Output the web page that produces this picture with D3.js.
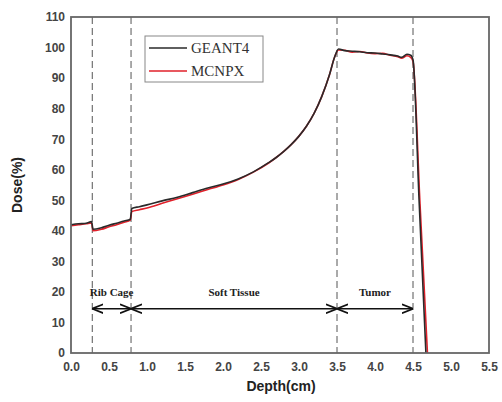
<!DOCTYPE html>
<html>
<head>
<meta charset="utf-8">
<script src="https://cdn.jsdelivr.net/npm/d3@7"></script>
<style>
body { margin: 0; background: #fff; }
svg { display: block; }
</style>
</head>
<body>
<svg id="chart" width="502" height="402"></svg>
<script>
// depth (cm) and dose (%)
const geantDepth = [0, 0.1, 0.2, 0.27, 0.29, 0.4, 0.5, 0.6, 0.7, 0.78, 0.8, 0.9, 1.0, 1.2, 1.4, 1.6, 1.8, 2.0, 2.2, 2.4, 2.6, 2.7, 2.8, 2.9, 3.0, 3.1, 3.2, 3.3, 3.4, 3.47, 3.52, 3.6, 3.7, 3.8, 3.9, 4.0, 4.1, 4.2, 4.3, 4.35, 4.42, 4.47, 4.5, 4.58, 4.67]
const geantDose = [42, 42.3, 42.5, 43, 40.5, 41, 41.8, 42.5, 43.2, 43.8, 47.3, 47.9, 48.5, 49.8, 51, 52.5, 54, 55.3, 57, 59.3, 62.3, 64, 66, 68.3, 71, 74.3, 78.5, 84, 91, 97, 99.5, 99, 98.8, 98.6, 98.3, 98.2, 97.9, 97.6, 97.2, 96.8, 97.8, 97.5, 96, 50, 0]
const mcnpDepth = [0, 0.1, 0.2, 0.27, 0.29, 0.4, 0.5, 0.6, 0.7, 0.78, 0.8, 0.9, 1.0, 1.2, 1.4, 1.6, 1.8, 2.0, 2.2, 2.4, 2.6, 2.7, 2.8, 2.9, 3.0, 3.1, 3.2, 3.3, 3.4, 3.47, 3.52, 3.6, 3.7, 3.8, 3.9, 4.0, 4.1, 4.2, 4.3, 4.35, 4.42, 4.47, 4.5, 4.59, 4.69]
const mcnpDose = [41.7, 42, 42.3, 42.6, 40, 40.5, 41.3, 42, 42.8, 43.5, 46.3, 46.9, 47.5, 49, 50.5, 52, 53.5, 55, 56.8, 59.2, 62.2, 64, 66, 68.3, 71, 74.3, 78.5, 84, 91, 97, 99.2, 99.1, 98.5, 98.7, 98.2, 98, 98.1, 97.5, 97, 96.5, 97.3, 96.8, 95.5, 50, 0]

const xTicks = [0, 0.5, 1, 1.5, 2, 2.5, 3, 3.5, 4, 4.5, 5, 5.5]
const yTicks = [0, 10, 20, 30, 40, 50, 60, 70, 80, 90, 100, 110]
const boundaries = [0.28, 0.79, 3.5, 4.5]
const regions = [
	{name: 'Rib Cage', from: 0.28, to: 0.79},
	{name: 'Soft Tissue', from: 0.79, to: 3.5},
	{name: 'Tumor', from: 3.5, to: 4.5}
]
const series = [
	{name: 'GEANT4', color: '#2a2a2a', x: geantDepth, y: geantDose},
	{name: 'MCNPX', color: '#e0202a', x: mcnpDepth, y: mcnpDose}
]

const margin = {left: 71, top: 17, right: 13, bottom: 49}
const width = 502 - margin.left - margin.right,
	height = 402 - margin.top - margin.bottom

const svg = d3.select('#chart')

svg.append('defs').append('marker')
	.attr('id', 'arr')
	.attr('viewBox', '0 0 10 10')
	.attr('refX', 9).attr('refY', 5)
	.attr('markerWidth', 7).attr('markerHeight', 7)
	.attr('orient', 'auto-start-reverse')
	.append('path')
	.attr('d', 'M0,1 L10,5 L0,9')
	.attr('fill', 'none')
	.attr('stroke', '#111')
	.attr('stroke-width', 1.6)

const g = svg.append('g').attr('transform', `translate(${margin.left},${margin.top})`)

const x = d3.scaleLinear().domain([0, 5.5]).range([0, width])
const y = d3.scaleLinear().domain([0, 110]).range([height, 0])

// x tick labels
g.append('g')
	.attr('transform', `translate(0,${height})`)
	.call(d3.axisBottom(x).tickValues(xTicks).tickFormat(d3.format('.1f')).tickSize(0).tickPadding(9))
	.call(a => a.select('.domain').remove())
	.selectAll('text')
	.attr('font-family', 'Liberation Sans, Arial, sans-serif')
	.attr('font-weight', 'bold')
	.attr('font-size', 12)
	.attr('fill', '#444')

// y tick labels
g.append('g')
	.call(d3.axisLeft(y).tickValues(yTicks).tickSize(0).tickPadding(6))
	.call(a => a.select('.domain').remove())
	.selectAll('text')
	.attr('font-family', 'Liberation Sans, Arial, sans-serif')
	.attr('font-weight', 'bold')
	.attr('font-size', 12)
	.attr('fill', '#444')

// region boundaries
g.selectAll('.bound')
	.data(boundaries)
	.enter()
	.append('line')
	.attr('class', 'bound')
	.attr('x1', d => x(d)).attr('x2', d => x(d))
	.attr('y1', 0).attr('y2', height)
	.attr('stroke', '#555')
	.attr('stroke-width', 1)
	.attr('stroke-dasharray', '7,4')

// region arrows + labels
const arrowY = y(14.5)
g.selectAll('.reg')
	.data(regions)
	.enter()
	.append('line')
	.attr('x1', d => x(d.from) + 1).attr('x2', d => x(d.to) - 1)
	.attr('y1', arrowY).attr('y2', arrowY)
	.attr('stroke', '#111')
	.attr('stroke-width', 1.6)
	.attr('marker-start', 'url(#arr)')
	.attr('marker-end', 'url(#arr)')

g.selectAll('.regtxt')
	.data(regions)
	.enter()
	.append('text')
	.attr('x', d => x((d.from + d.to) / 2))
	.attr('y', y(18.5))
	.attr('text-anchor', 'middle')
	.attr('font-family', 'Liberation Serif, Times New Roman, serif')
	.attr('font-weight', 'bold')
	.attr('font-size', 11)
	.attr('fill', '#222')
	.text(d => d.name)

// curves
const line = d3.line()
	.x(d => x(d[0]))
	.y(d => y(d[1]))
	.curve(d3.curveMonotoneX)

series.slice().reverse().forEach(s => {
	g.append('path')
		.datum(s.x.map((v, i) => [v, s.y[i]]))
		.attr('d', line)
		.attr('fill', 'none')
		.attr('stroke', s.color)
		.attr('stroke-width', 1.6)
		.attr('stroke-linejoin', 'round')
})

// frame
g.append('rect')
	.attr('width', width).attr('height', height)
	.attr('fill', 'none')
	.attr('stroke', '#666')
	.attr('stroke-width', 1.8)

// legend
const lg = g.append('g').attr('transform', 'translate(74,19)')
lg.append('rect')
	.attr('width', 118).attr('height', 46)
	.attr('fill', '#fff')
	.attr('stroke', '#888')
	.attr('stroke-width', 1)
series.forEach((s, i) => {
	lg.append('line')
		.attr('x1', 4).attr('x2', 42)
		.attr('y1', 12 + i * 23).attr('y2', 12 + i * 23)
		.attr('stroke', s.color)
		.attr('stroke-width', 1.6)
	lg.append('text')
		.attr('x', 46).attr('y', 17 + i * 23)
		.attr('font-family', 'Liberation Serif, Times New Roman, serif')
		.attr('font-size', 15)
		.attr('fill', '#333')
		.text(s.name)
})

// axis titles
svg.append('text')
	.attr('x', margin.left + width / 2 + 1)
	.attr('y', 391)
	.attr('text-anchor', 'middle')
	.attr('font-family', 'Liberation Sans, Arial, sans-serif')
	.attr('font-weight', 'bold')
	.attr('font-size', 14)
	.attr('fill', '#222')
	.text('Depth(cm)')

svg.append('text')
	.attr('transform', `translate(22,${margin.top + height / 2}) rotate(-90)`)
	.attr('text-anchor', 'middle')
	.attr('font-family', 'Liberation Sans, Arial, sans-serif')
	.attr('font-weight', 'bold')
	.attr('font-size', 14)
	.attr('fill', '#222')
	.text('Dose(%)')
</script>
</body>
</html>
